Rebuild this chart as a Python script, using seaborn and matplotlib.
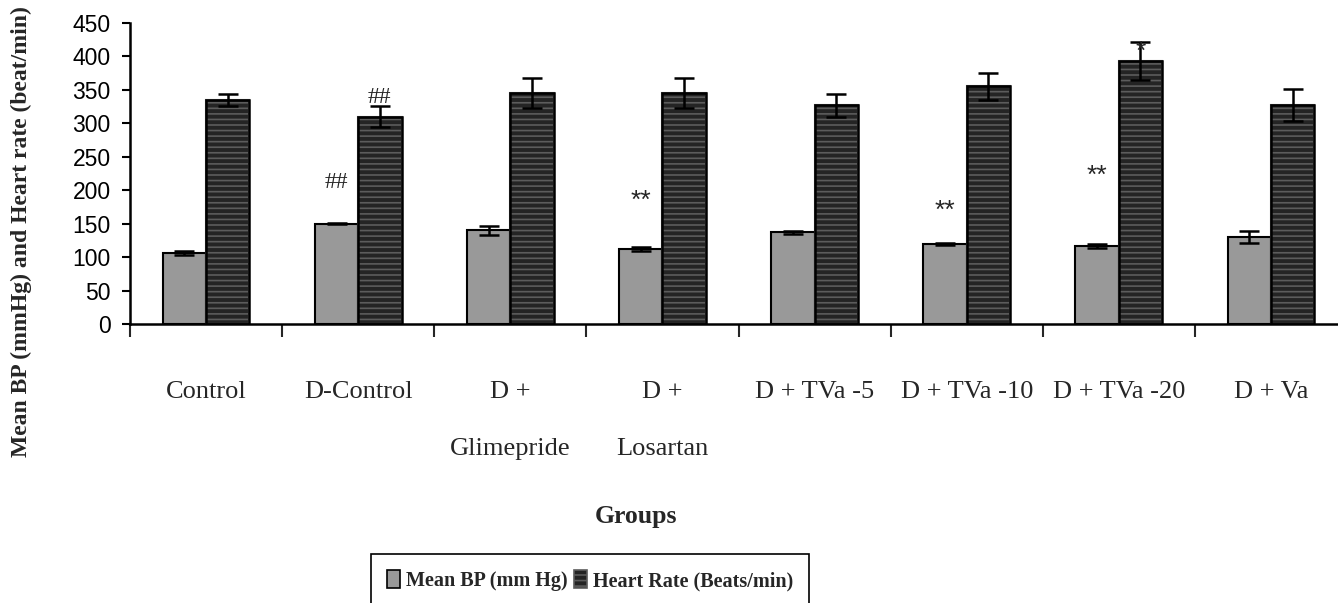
import numpy as np
import pandas as pd
import matplotlib
matplotlib.use("Agg")
import matplotlib.pyplot as plt
import seaborn as sns
from matplotlib.patches import Patch, Rectangle

# ---------------- data ----------------
groups = ["Control", "D-Control", "D +\nGlimepride", "D +\nLosartan",
          "D + TVa -5", "D + TVa -10", "D + TVa -20", "D + Va"]
series = ["Mean BP (mm Hg)", "Heart Rate (Beats/min)"]
mean_bp = [106, 150, 140, 113, 137, 120, 117, 130]
mean_bp_err = [3, 1, 7, 3, 2, 2, 3, 9]
heart_rate = [335, 310, 345, 345, 327, 355, 393, 327]
heart_rate_err = [9, 16, 23, 22, 17, 20, 28, 24]
# significance marks: text, group index, series index, y value of text centre
marks_text = ["##", "##", "**", "**", "**", "*"]
marks_group = [1, 1, 3, 5, 6, 6]
marks_series = [0, 1, 0, 0, 0, 1]
marks_y = [212, 338, 188, 173, 226, 411]
yticks = [0, 50, 100, 150, 200, 250, 300, 350, 400, 450]

df = pd.DataFrame({
    "group": groups * 2,
    "series": [series[0]] * len(groups) + [series[1]] * len(groups),
    "value": mean_bp + heart_rate,
})
errs = [mean_bp_err, heart_rate_err]

sns.set_style("white")
plt.rcParams["hatch.linewidth"] = 1.2

W, H = 1338, 603
fig = plt.figure(figsize=(W / 100, H / 100), dpi=100)
ax = fig.add_axes([130 / W, 1 - 324.3 / H, 1217 / W, 301.6 / H])

fill = {series[0]: "#999999", series[1]: "#242424"}
sns.barplot(data=df, x="group", y="value", hue="series", order=groups,
            hue_order=series, palette=fill, width=0.57, gap=0,
            errorbar=None, edgecolor="black", linewidth=1.5,
            saturation=1, legend=False, ax=ax)

# texture for dark bars (grey hatch + black outline) & error bars
bar_containers = list(ax.containers)
centers = []
for si, cont in enumerate(bar_containers):
    cs = []
    for p in cont.patches:
        if si == 1:
            p.set_hatch("---")
            p.set_edgecolor("#5c5c5c")
            outline = Rectangle(p.get_xy(), p.get_width(), p.get_height(),
                                fill=False, edgecolor="black", linewidth=1.8,
                                zorder=p.get_zorder() + 0.1)
            ax.add_patch(outline)
        cs.append(p.get_x() + p.get_width() / 2)
    centers.append(cs)
for si in range(len(series)):
    vals = mean_bp if si == 0 else heart_rate
    ax.errorbar(centers[si], vals, yerr=errs[si], fmt="none", ecolor="black",
                elinewidth=1.8, capsize=7, capthick=1.8, zorder=5)

for t, g, s, y in zip(marks_text, marks_group, marks_series, marks_y):
    if t.startswith("#"):
        ax.text(centers[s][g], y, t, ha="center", va="center",
                fontfamily="Liberation Serif", fontsize=17, zorder=6)
    else:
        ax.text(centers[s][g], y - 4, t, ha="center", va="center",
                fontfamily="Liberation Sans", fontsize=19, zorder=6)

ax.set_ylim(0, 450)
ax.set_xlim(-0.5, len(groups) - 0.5)
ax.set_yticks(yticks)
ax.set_yticklabels([str(v) for v in yticks], fontfamily="Liberation Sans",
                   fontsize=16.5)
ax.tick_params(axis="y", direction="out", length=6, width=1.5, pad=8,
               left=True, colors="black")

ax.set_xticks(np.arange(-0.5, len(groups), 1.0))
ax.set_xticklabels([])
ax.set_xticks(np.arange(len(groups)), minor=True)
ax.set_xticklabels(groups, minor=True, fontfamily="Liberation Serif",
                   fontsize=19, va="top")
for lab in ax.get_xticklabels(minor=True):
    lab.set_linespacing(3.05)
ax.tick_params(axis="x", which="major", direction="out", length=9,
               width=1.5, bottom=True)
ax.tick_params(axis="x", which="minor", length=0, pad=41, bottom=True)

for side in ["top", "right"]:
    ax.spines[side].set_visible(False)
for side in ["left", "bottom"]:
    ax.spines[side].set_color("black")
    ax.spines[side].set_linewidth(1.8)
ax.set_xlabel("")
ax.set_ylabel("")
ax.grid(False)

fig.text(21 / W, 1 - 232 / H, "Mean BP (mmHg) and Heart rate (beat/min)",
         rotation=90, ha="center", va="center", fontfamily="Liberation Serif",
         fontweight="bold", fontsize=17)
fig.text(636 / W, 1 - 516 / H, "Groups", ha="center", va="center",
         fontfamily="Liberation Serif", fontweight="bold", fontsize=18.5)

handles = [Patch(facecolor=fill[series[0]], edgecolor="black", linewidth=1.2),
           Patch(facecolor=fill[series[1]], edgecolor="#5c5c5c",
                 linewidth=1.2, hatch="---")]
leg = fig.legend(handles, series, loc="upper center",
                 bbox_to_anchor=(590 / W, 1 - 554 / H), ncol=2,
                 frameon=True, fancybox=False, framealpha=1,
                 edgecolor="black", handlelength=0.65, handleheight=1.0,
                 handletextpad=0.3, columnspacing=0.3, borderpad=0.8,
                 borderaxespad=0,
                 prop={"family": "Liberation Serif", "weight": "bold",
                       "size": 14.5})
leg.get_frame().set_linewidth(1.2)

fig.savefig("out.png", dpi=100)
